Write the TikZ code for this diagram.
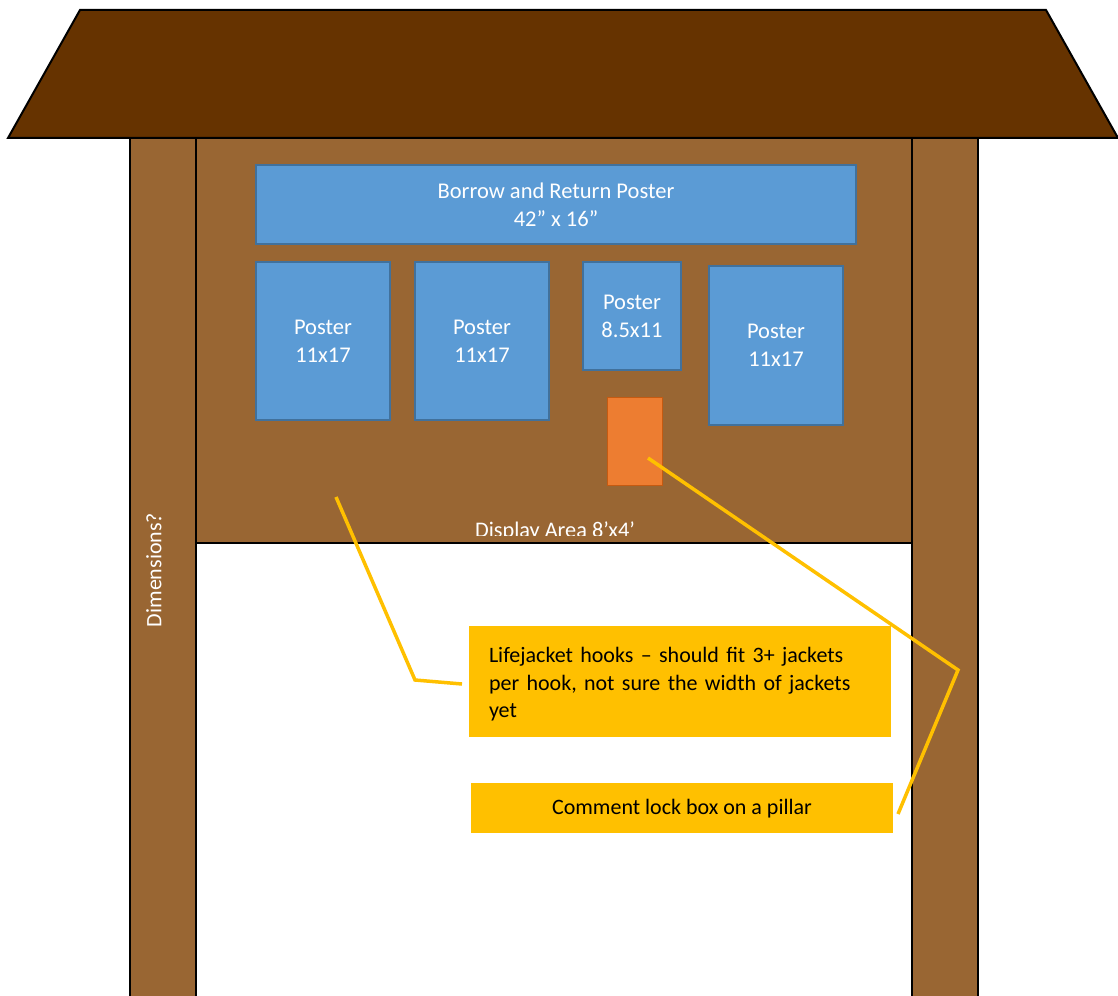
\documentclass[tikz,border=0pt]{standalone}
\usepackage{fontspec}
\setmainfont{Carlito}
\usetikzlibrary{positioning}

\definecolor{roofbrown}{HTML}{663300}
\definecolor{woodbrown}{HTML}{996633}
\definecolor{posterblue}{HTML}{5B9BD5}
\definecolor{posteredge}{HTML}{41719C}
\definecolor{lockorange}{HTML}{ED7D31}
\definecolor{lockedge}{HTML}{C55A11}
\definecolor{notegold}{HTML}{FFC000}

\tikzset{
  wood/.style={fill=woodbrown,draw=black,line width=2pt},
  poster/.style={fill=posterblue,draw=posteredge,line width=1.5pt,text=white,align=center,
    font=\fontsize{22.5}{28}\selectfont,inner sep=0pt},
  note/.style={fill=notegold,draw=none,inner sep=0pt},
  notetext/.style={text=black,font=\fontsize{22}{27.5}\selectfont,inner sep=0pt},
  leader/.style={draw=notegold,line width=3.5pt}
}

\begin{document}
\begin{tikzpicture}[x=1pt,y=-1pt]
\useasboundingbox (0,0) rectangle (1118,995);
% roof
\draw[fill=roofbrown,line width=2pt] (80,10) -- (1046,10) -- (1118,138) -- (8,138) -- cycle;
% pillars and board
\draw[wood] (130,138) rectangle (196,1000);
\draw[wood] (912,138) rectangle (978,1000);
\draw[wood] (196,138) rectangle (912,543);
\node[rotate=90,text=white,font=\fontsize{22}{24}\selectfont] (dims) at (154,570) {Dimensions?};
\begin{scope}
\clip (197,139) rectangle (911,535);
\node[text=white,font=\fontsize{22.3}{24}\selectfont,anchor=base] (area) at (555,537) {Display Area 8’x4’};
\end{scope}
% posters
\node[poster,minimum width=600,minimum height=79] (borrow) at (556,204.5) {Borrow and Return Poster\\42” x 16”};
\node[poster,minimum width=134,minimum height=158] (posterA) at (323,341) {Poster\\11x17};
\node[poster,minimum width=134,minimum height=158] (posterB) at (482,341) {Poster\\11x17};
\node[poster,minimum width=98,minimum height=108] (posterC) at (632,316) {Poster\\8.5x11};
\node[poster,minimum width=134,minimum height=159] (posterD) at (776,345.5) {Poster\\11x17};
\node[fill=lockorange,draw=lockedge,line width=1pt,minimum width=55,minimum height=88,inner sep=0pt] (lock) at (634.5,441) {};
% notes
\node[note,minimum width=422,minimum height=111] (hooks) at (680,681.5) {};
\node[notetext,text width=382,align=left,yshift=-3pt] (hooksText) at (hooks.center)
  {Lifejacket hooks – should fit 3+ jackets\\per hook, not sure the width of jackets\\yet};
\node[note,minimum width=422,minimum height=50] (comment) at (682,808) {};
\node[notetext,yshift=-1pt] (commentText) at (comment.center) {Comment lock box on a pillar};
% leader lines
\coordinate (hookA) at (336,497);
\coordinate (hookB) at (415,680);
\coordinate (hookC) at (462,684);
\coordinate (lockA) at (648,458);
\coordinate (lockB) at (958,670);
\coordinate (lockC) at (898,814);
\draw[leader] (hookA) -- (hookB) -- (hookC);
\draw[leader] (lockA) -- (lockB) -- (lockC);
\end{tikzpicture}
\end{document}
